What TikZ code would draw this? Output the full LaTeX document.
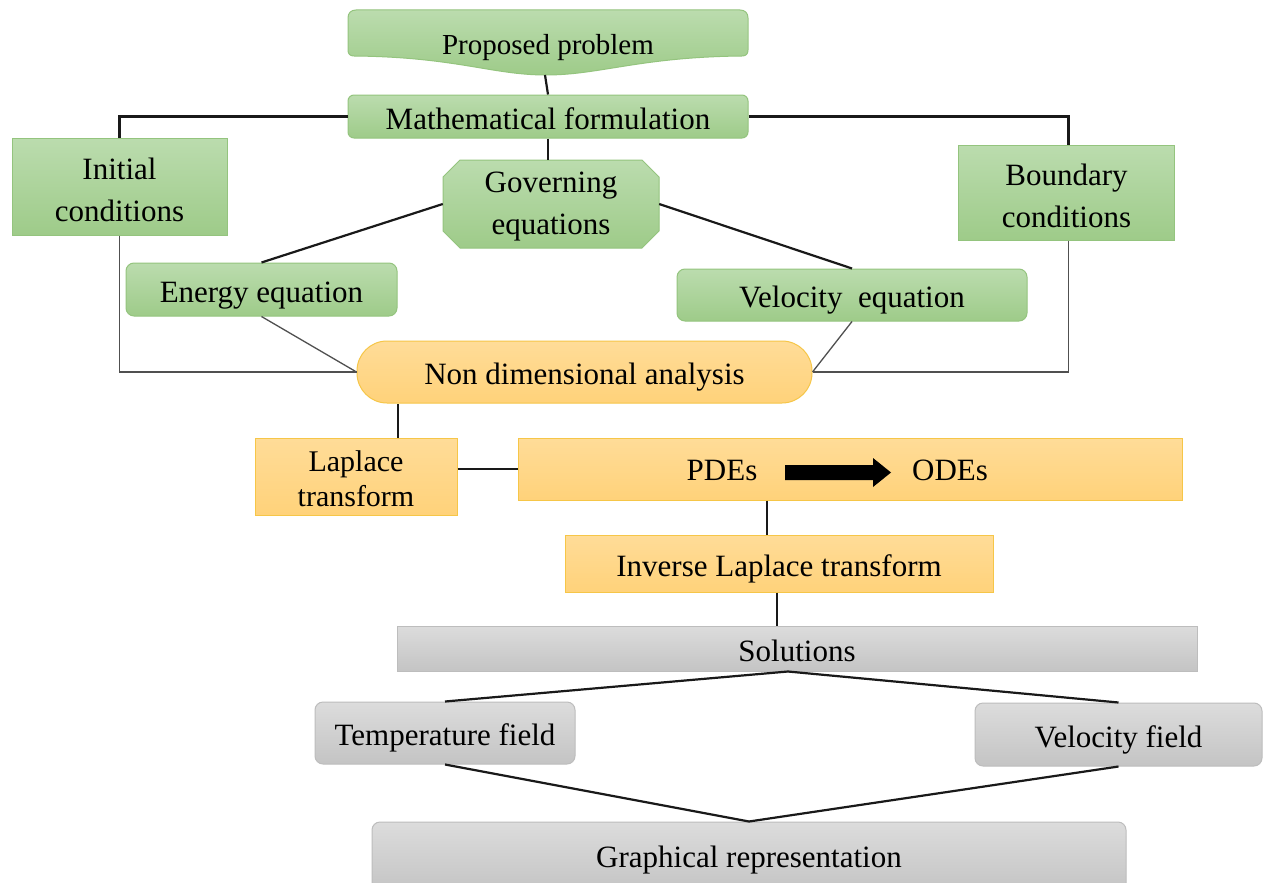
\documentclass[tikz,border=0pt]{standalone}
\usepackage{fontspec}
\setmainfont{Liberation Serif}
\usetikzlibrary{calc}
\definecolor{gtop}{HTML}{BBDCAE}
\definecolor{gbot}{HTML}{9ECB89}
\definecolor{gbord}{HTML}{94C47E}
\definecolor{ytop}{HTML}{FFDC98}
\definecolor{ybot}{HTML}{FFD27A}
\definecolor{ybord}{HTML}{F6C648}
\definecolor{ktop}{HTML}{DCDCDC}
\definecolor{kbot}{HTML}{C4C4C4}
\definecolor{kbord}{HTML}{BDBDBD}
\definecolor{thinline}{HTML}{505050}
\begin{document}
\begin{tikzpicture}[x=1pt,y=-1pt,
  every node/.style={font=\fontsize{31}{42}\selectfont, align=center, inner sep=0pt, text=black},
  oneline/.style={text height=25pt, text depth=0pt},
  greenbox/.style={draw=gbord, line width=1pt, top color=gtop, bottom color=gbot},
  greenshape/.style={draw=gbord, line width=1pt, top color=gtop, bottom color=gbot},
  yelbox/.style={draw=ybord, line width=1pt, top color=ytop, bottom color=ybot},
  graybox/.style={draw=kbord, line width=1pt, top color=ktop, bottom color=kbot},
  conn/.style={draw=black!90, line width=2.2pt},
  midconn/.style={draw=black!90, line width=1.8pt},
  thinconn/.style={draw=thinline, line width=1.3pt}
]
\clip (0,0) rectangle (1269,883);
\fill[white] (0,0) rectangle (1269,883);

% Proposed problem (wavy-bottom shape)
\path[greenshape] (356,10) -- (740,10) .. controls (745,10) and (748,13) .. (748,18)
  -- (748,50) .. controls (748,54) and (746,56) .. (742,56)
  .. controls (640,57) and (600,75) .. (546,75)
  .. controls (492,75) and (456,57) .. (354,56)
  .. controls (350,56) and (348,54) .. (348,50) -- (348,18)
  .. controls (348,13) and (351,10) .. (356,10) -- cycle;
\node[font=\fontsize{29}{40}\selectfont, text height=19pt, text depth=0pt] (pp) at (548,45) {Proposed problem};
\coordinate (ppb) at (545,75);

% Governing equations octagon
\path[greenshape] (460,160) -- (642,160) -- (659,177) -- (659,231) -- (642,248)
  -- (460,248) -- (443,231) -- (443,177) -- cycle;
\node[minimum width=216pt, minimum height=88pt] (ge) at (551,204) {};
\node (get) at ([yshift=-3pt]ge.center) {Governing\\equations};

% green boxes
\node[greenbox, oneline, rounded corners=6pt, minimum width=400pt, minimum height=43pt] (mf) at (548,116.5) {Mathematical formulation};
\node[greenbox, minimum width=215pt, minimum height=97pt] (ic) at (119.5,186.5) {};
\node (ict) at ([yshift=-3pt]ic.center) {Initial\\conditions};
\node[greenbox, minimum width=216pt, minimum height=95pt] (bc) at (1066.5,192.5) {};
\node (bct) at ([yshift=-3pt]bc.center) {Boundary\\conditions};
\node[greenbox, oneline, rounded corners=8pt, minimum width=271pt, minimum height=53pt] (ee) at (261.5,289.5) {Energy equation};
\node[greenbox, oneline, rounded corners=8pt, minimum width=350pt, minimum height=52pt] (ve) at (852,295) {Velocity\ \ equation};

% yellow boxes
\node[yelbox, oneline, rounded corners=30pt, minimum width=455pt, minimum height=62pt] (nd) at (584.5,372) {Non dimensional analysis};
\node[yelbox, minimum width=202pt, minimum height=77pt] (lt) at (356,476.5) {};
\node[font=\fontsize{30}{35}\selectfont] (ltt) at ([yshift=-2pt]lt.center) {Laplace\\transform};
\node[yelbox, minimum width=664pt, minimum height=62pt] (po) at (850,469) {};
\node[oneline] (pdes) at (722,467.5) {PDEs};
\node[oneline] (odes) at (950,467.5) {ODEs};
\fill[black] (785,465) -- (873,465) -- (873,458) -- (891,472.5) -- (873,487) -- (873,480) -- (785,480) -- cycle;
\node[yelbox, oneline, minimum width=428pt, minimum height=57pt] (il) at (779,563.5) {Inverse Laplace transform};

% gray boxes
\node[graybox, oneline, minimum width=800pt, minimum height=45pt] (so) at (797,648.5) {Solutions};
\node[graybox, oneline, rounded corners=8pt, minimum width=260pt, minimum height=62pt] (tf) at (445,733) {Temperature field};
\node[graybox, oneline, rounded corners=8pt, minimum width=287pt, minimum height=63pt] (vf) at (1118.5,734.5) {Velocity field};
\node[graybox, rounded corners=8pt, minimum width=754pt, minimum height=70pt] (gr) at (749,857) {};
\node[oneline] (grt) at (749,855) {Graphical representation};

% connectors (top part)
\draw[conn] (ppb) -- (mf.north);
\draw[conn] (mf.west) -| (ic.north);
\draw[conn] (mf.east) -| ([xshift=2pt]bc.north);
\draw[conn] (mf.south) -- (ge.north -| mf.south);
\draw[conn] (ge.west) -- (ee.north);
\draw[conn] (ge.east) -- (ve.north);

% thin connectors to non dimensional analysis
\draw[thinconn] (ic.south) |- (nd.west);
\draw[thinconn] (ee.south) -- (nd.west);
\draw[thinconn] ([xshift=2pt]bc.south) |- (nd.east);
\draw[thinconn] (ve.south) -- (nd.east);

% middle connectors
\draw[midconn] ([xshift=42pt]lt.north) -- ([xshift=42pt]lt.north |- nd.south);
\draw[midconn] (po.west -| lt.east) -- (po.west);
\draw[midconn] ([xshift=-83pt]po.south) -- ([xshift=-83pt]po.south |- il.north);
\draw[midconn] ([xshift=-2pt]il.south) -- ([xshift=-2pt]il.south |- so.north);

% bottom connectors
\draw[conn] ([xshift=-9pt]so.south) -- (tf.north);
\draw[conn] ([xshift=-9pt]so.south) -- (vf.north);
\draw[conn] (tf.south) -- (gr.north);
\draw[conn] (vf.south) -- (gr.north);
\end{tikzpicture}
\end{document}
